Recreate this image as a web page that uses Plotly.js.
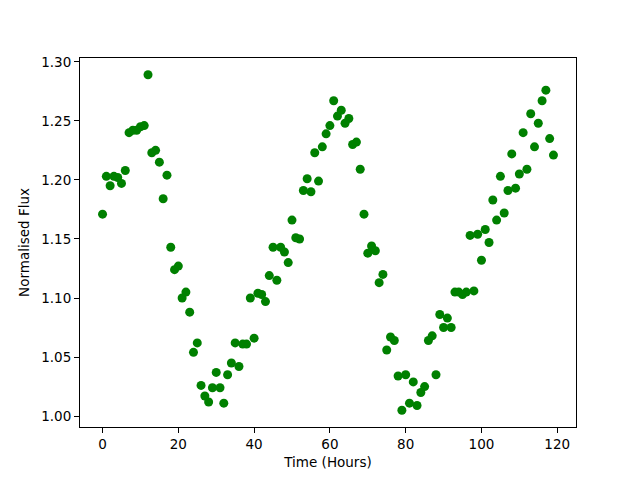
<!DOCTYPE html>
<html>
<head>
<meta charset="utf-8">
<script src="https://cdn.plot.ly/plotly-3.0.1.min.js"></script>
<style>html,body{margin:0;padding:0;background:#fff;}#chart{width:640px;height:480px;}</style>
</head>
<body>
<div id="chart"></div>
<script>
const hours = Array.from({length: 120}, (_, i) => i);
const flux = [
  1.171, 1.203, 1.195, 1.203, 1.202, 1.197, 1.208, 1.240, 1.242, 1.242,
  1.245, 1.246, 1.289, 1.223, 1.225, 1.215, 1.184, 1.204, 1.143, 1.124,
  1.127, 1.100, 1.105, 1.088, 1.054, 1.062, 1.026, 1.017, 1.012, 1.024,
  1.037, 1.024, 1.011, 1.035, 1.045, 1.062, 1.042, 1.061, 1.061, 1.100,
  1.066, 1.104, 1.103, 1.097, 1.119, 1.143, 1.115, 1.143, 1.139, 1.130,
  1.166, 1.151, 1.150, 1.191, 1.201, 1.190, 1.223, 1.199, 1.228, 1.239,
  1.246, 1.267, 1.254, 1.259, 1.248, 1.252, 1.230, 1.232, 1.209, 1.171,
  1.138, 1.144, 1.140, 1.113, 1.120, 1.056, 1.067, 1.064, 1.034, 1.005,
  1.035, 1.011, 1.029, 1.009, 1.020, 1.025, 1.064, 1.068, 1.035, 1.086,
  1.075, 1.083, 1.075, 1.105, 1.105, 1.103, 1.105, 1.153, 1.106, 1.154,
  1.132, 1.158, 1.147, 1.183, 1.166, 1.203, 1.172, 1.191, 1.222, 1.193,
  1.205, 1.240, 1.209, 1.256, 1.228, 1.248, 1.267, 1.276, 1.235, 1.221
];
const xTicks = [0, 20, 40, 60, 80, 100, 120];
const yTicks = [1.00, 1.05, 1.10, 1.15, 1.20, 1.25, 1.30];

const xmin = Math.min(...hours), xmax = Math.max(...hours);
const ymin = Math.min(...flux), ymax = Math.max(...flux);
const xpad = (xmax - xmin) * 0.05, ypad = (ymax - ymin) * 0.05;

const axisCommon = {
  showline: true, mirror: true, linecolor: '#000', linewidth: 1,
  ticks: 'outside', ticklen: 5, tickwidth: 1, tickcolor: '#000',
  showgrid: false, zeroline: false,
  tickfont: {family: 'DejaVu Sans', size: 13.5, color: '#000'}
};

Plotly.newPlot('chart', [{
  x: hours, y: flux, type: 'scatter', mode: 'markers',
  marker: {color: '#008000', size: 9}
}], {
  width: 640, height: 480,
  margin: {l: 80, r: 64, t: 58, b: 53, pad: 0},
  paper_bgcolor: '#fff', plot_bgcolor: '#fff',
  showlegend: false,
  font: {family: 'DejaVu Sans', color: '#000'},
  xaxis: Object.assign({}, axisCommon, {
    range: [xmin - xpad, xmax + xpad],
    tickvals: xTicks, ticktext: xTicks.map(String),
    title: {text: 'Time (Hours)', font: {family: 'DejaVu Sans', size: 13.5}, standoff: 6}
  }),
  yaxis: Object.assign({}, axisCommon, {
    range: [ymin - ypad, ymax + ypad],
    tickvals: yTicks, ticktext: yTicks.map(v => v.toFixed(2)),
    title: {text: 'Normalised Flux', font: {family: 'DejaVu Sans', size: 13.5}, standoff: 8}
  })
}, {staticPlot: true});
</script>
</body>
</html>
